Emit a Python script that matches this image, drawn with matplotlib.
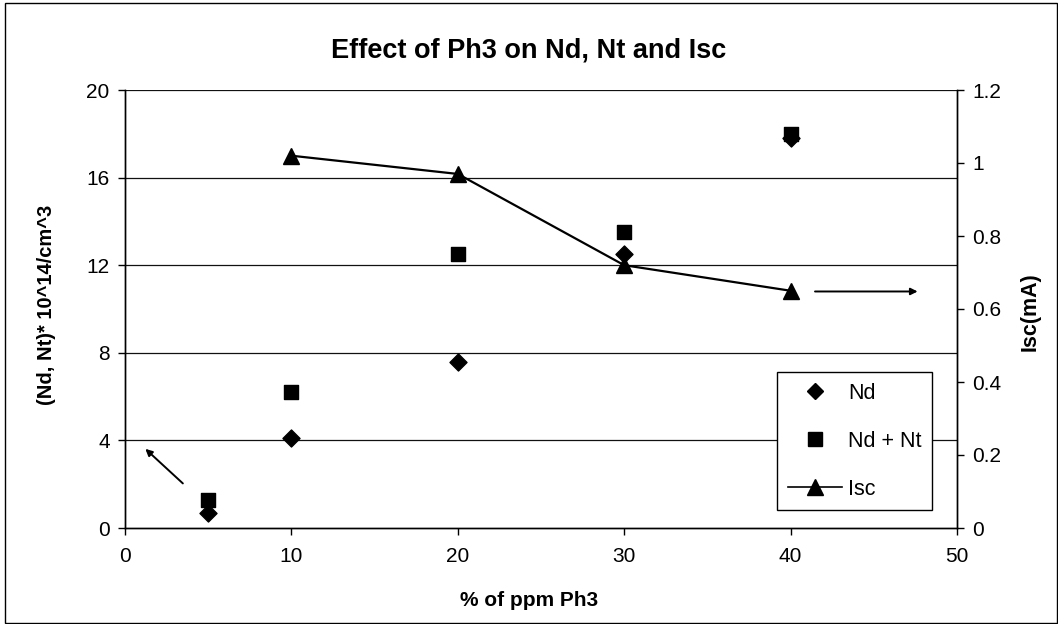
import matplotlib
matplotlib.use("Agg")
import matplotlib.pyplot as plt
from matplotlib.lines import Line2D
from matplotlib.patches import Rectangle

plt.rcParams['font.family'] = ['Liberation Sans', 'DejaVu Sans']

# datos
ppm = [5, 10, 20, 30, 40]
nd = [0.7, 4.1, 7.6, 12.5, 17.8]
nd_nt = [1.3, 6.2, 12.5, 13.5, 18.0]
ppm_isc = [10, 20, 30, 40]
isc = [1.02, 0.97, 0.72, 0.65]

left_ticks = [0, 4, 8, 12, 16, 20]
right_ticks = [0, 0.2, 0.4, 0.6, 0.8, 1, 1.2]
right_labels = ["0", "0.2", "0.4", "0.6", "0.8", "1", "1.2"]
x_ticks = [0, 10, 20, 30, 40, 50]

W, H = 1058, 624
fig = plt.figure(figsize=(W / 100, H / 100), dpi=100)
ax = fig.add_axes([125 / W, 1 - 528 / H, (957 - 125) / W, (528 - 90) / H])
ax2 = ax.twinx()

# marco exterior
fig.patches.append(Rectangle((5 / W, 0.002), 1 - 6 / W, 1 - 3 / H - 0.002,
                             transform=fig.transFigure, fill=False,
                             edgecolor='black', lw=1))

ax.set_xlim(0, 50)
ax.set_ylim(0, 20)
ax2.set_ylim(0, 1.2)

for y in left_ticks[1:]:
    ax.axhline(y, color='#111111', lw=0.9, zorder=1)

ax.scatter(ppm, nd, marker='D', s=75, color='black', zorder=3)
ax.scatter(ppm, nd_nt, marker='s', s=100, color='black', zorder=3)
ax2.plot(ppm_isc, isc, color='black', lw=1.6, marker='^', markersize=11, zorder=3)

ax.set_xticks(x_ticks)
ax.set_yticks(left_ticks)
ax2.set_yticks(right_ticks)
ax2.set_yticklabels(right_labels)
for a in (ax, ax2):
    a.tick_params(labelsize=15, length=5, width=1, direction='out', pad=6)
    for s in a.spines.values():
        s.set_linewidth(1)
ax.tick_params(axis='x', pad=9)
ax.spines['top'].set_visible(False)
ax2.spines['top'].set_visible(False)

fig.text(0.5, 1 - 50 / H, "Effect of Ph3 on Nd, Nt and Isc", ha='center', va='center',
         fontsize=19.5, fontweight='bold')
fig.text(0.5, 1 - 600 / H, "% of ppm Ph3", ha='center', va='center',
         fontsize=15, fontweight='bold')
fig.text(47 / W, 1 - 305 / H, "(Nd, Nt)* 10^14/cm^3", ha='center', va='center',
         rotation=90, fontsize=14.5, fontweight='bold')
fig.text(1030 / W, 1 - 312 / H, "Isc(mA)", ha='center', va='center',
         rotation=90, fontsize=15.5, fontweight='bold')

# flechas
ax.annotate('', xy=(1.1, 3.7), xytext=(3.6, 1.95),
            arrowprops=dict(arrowstyle='-|>', color='black', lw=1.4, mutation_scale=10))
ax.annotate('', xy=(47.8, 10.8), xytext=(41.3, 10.8),
            arrowprops=dict(arrowstyle='-|>', color='black', lw=1.4, mutation_scale=10))

handles = [
    Line2D([], [], ls='none', marker='D', markersize=8, color='black'),
    Line2D([], [], ls='none', marker='s', markersize=9.5, color='black'),
    Line2D([], [], color='black', lw=1.2, marker='^', markersize=11),
]
leg = ax2.legend(handles, ["Nd", "Nd + Nt", "Isc"], loc='upper left',
                 bbox_to_anchor=(777 / W, 1 - 372 / H), bbox_transform=fig.transFigure,
                 fontsize=15.5, frameon=True, fancybox=False, framealpha=1,
                 edgecolor='black', handlelength=2.5, labelspacing=1.25,
                 borderpad=0.5, handletextpad=0.3, borderaxespad=0)
leg.get_frame().set_linewidth(1)

fig.savefig("out.png", dpi=100)
